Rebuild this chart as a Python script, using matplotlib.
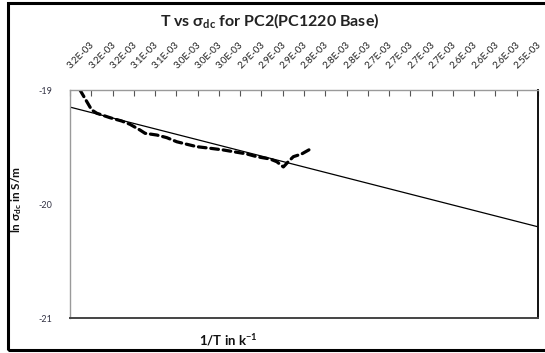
import matplotlib.pyplot as plt
import matplotlib as mpl
from matplotlib.patches import Rectangle
import numpy as np

mpl.use('Agg')

plt.rcParams['font.family'] = ['Lato', 'DejaVu Sans']
plt.rcParams['mathtext.fontset'] = 'custom'
plt.rcParams['mathtext.rm'] = 'Lato'
plt.rcParams['mathtext.it'] = 'Lato:italic'
plt.rcParams['mathtext.bf'] = 'Lato:bold'

# Category labels (1/T) along the top axis
inv_t_labels = ['3.2E-03', '3.2E-03', '3.2E-03', '3.1E-03', '3.1E-03', '3.0E-03',
                '3.0E-03', '3.0E-03', '2.9E-03', '2.9E-03', '2.9E-03', '2.8E-03',
                '2.8E-03', '2.8E-03', '2.7E-03', '2.7E-03', '2.7E-03', '2.7E-03',
                '2.6E-03', '2.6E-03', '2.6E-03', '2.5E-03']

# measured ln(sigma_dc), positions in category units
meas_pos = [0.47, 1.02, 1.26, 1.88, 2.43, 2.82, 3.29, 3.53, 4.08, 4.55, 5.02, 5.49,
            5.96, 6.58, 7.21, 7.68, 8.31, 8.78, 9.40, 9.72, 10.03, 10.26, 10.50,
            10.89, 11.28]
meas_ln_sigma = [-19.00, -19.175, -19.204, -19.243, -19.272, -19.301, -19.351, -19.380,
                 -19.395, -19.418, -19.454, -19.476, -19.497, -19.511, -19.526, -19.541,
                 -19.561, -19.585, -19.605, -19.629, -19.675, -19.629, -19.585,
                 -19.561, -19.520]

# linear trendline end points (across the whole plot area)
trend_pos = [0, 22]
trend_ln_sigma = [-19.15, -20.20]

y_ticks = [-19, -20, -21]

fig = plt.figure(figsize=(5.45, 3.53), dpi=100)
ax = fig.add_axes([70 / 545, 1 - 318 / 353, 468 / 545, 228 / 353])

ax.plot(meas_pos, meas_ln_sigma, color='black', linewidth=2.3,
        dashes=(2.4, 1.5), dash_capstyle='round', solid_capstyle='round')
ax.plot(trend_pos, trend_ln_sigma, color='black', linewidth=0.9)

ax.set_xlim(0, len(inv_t_labels))
ax.set_ylim(-21, -19)

# category axis sits on top, ticks pointing into the plot
ax.xaxis.tick_top()
ax.set_xticks(np.arange(len(inv_t_labels) + 1))
ax.tick_params(axis='x', direction='in', length=4, width=0.8, color='#555555',
               labeltop=False, labelbottom=False)
for i, lab in enumerate(inv_t_labels):
    ax.annotate(lab, xy=(i + 0.5, 1), xycoords=('data', 'axes fraction'),
                xytext=(-6, 14), textcoords='offset points', rotation=45,
                rotation_mode='anchor', ha='left', va='bottom', fontsize=7,
                color='#222222')

ax.set_yticks(y_ticks)
ax.set_yticklabels([str(v) for v in y_ticks], fontsize=6.5, color='#333344')
ax.tick_params(axis='y', length=0, pad=13)

for side in ['left', 'top']:
    ax.spines[side].set_color('#9a9a9a')
    ax.spines[side].set_linewidth(1.0)
ax.spines['right'].set_color('#111111')
ax.spines['right'].set_linewidth(1.4)
ax.spines['bottom'].set_color('#444444')
ax.spines['bottom'].set_linewidth(1.4)

fig.text(0.495, 0.943, 'T vs \u03c3$_{\\mathbf{dc}}$ for PC2(PC1220 Base)',
         ha='center', va='center', fontsize=11.5, fontweight='bold', color='#222222')
fig.text(0.419, 0.036, '1/T in k$^{\\mathbf{-1}}$', ha='center', va='center',
         fontsize=9.5, fontweight='bold', color='#111111')
fig.text(0.030, 0.436, 'ln \u03c3$_{\\mathbf{dc}}$ in S/m', ha='center', va='center',
         rotation=90, fontsize=8.5, fontweight='bold', color='#111111')

# outer chart border
fig.patches.append(Rectangle((8 / 545, 3 / 353), 1.0, 1 - 6 / 353, transform=fig.transFigure,
                             fill=False, edgecolor='black', linewidth=2.2))

plt.savefig('out.png', dpi=100)
